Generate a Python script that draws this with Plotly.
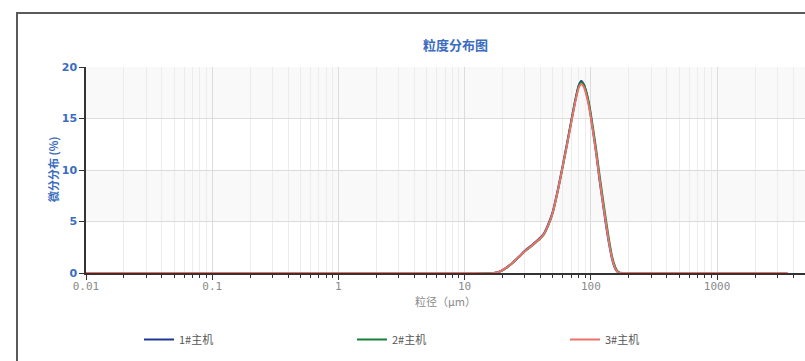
import plotly.graph_objects as go

# Particle size classes (µm) and differential distribution (%) for three hosts
sizes = [0.01, 0.1, 1, 10, 17, 19, 21, 24, 27, 30, 34, 38, 42, 46, 50, 55, 60, 65,
         70, 75, 80, 84, 88, 93, 98, 104, 110, 117, 124, 132, 140, 148, 156, 163,
         170, 180, 300, 1000, 3600]

host1 = [0, 0, 0, 0, 0, 0.15, 0.45, 1.0, 1.6, 2.15, 2.7, 3.2, 3.75, 4.75, 6.0, 8.2,
         10.5, 12.7, 14.8, 16.7, 18.2, 18.65, 18.3, 17.3, 15.9, 13.8, 11.7, 9.1, 6.9,
         4.6, 2.7, 1.25, 0.42, 0.1, 0, 0, 0, 0, 0]
host2 = [0, 0, 0, 0, 0, 0.14, 0.43, 0.97, 1.55, 2.1, 2.62, 3.12, 3.65, 4.6, 5.85, 8.05,
         10.35, 12.55, 14.7, 16.6, 18.1, 18.55, 18.3, 17.4, 16.1, 14.1, 12.1, 9.6, 7.4,
         5.1, 3.1, 1.5, 0.6, 0.18, 0.02, 0, 0, 0, 0]
host3 = [0, 0, 0, 0, 0, 0.15, 0.45, 1.0, 1.58, 2.12, 2.65, 3.15, 3.7, 4.65, 5.9, 8.1,
         10.4, 12.55, 14.6, 16.5, 17.95, 18.35, 18.05, 17.1, 15.75, 13.75, 11.7, 9.2, 7.0,
         4.75, 2.8, 1.3, 0.45, 0.12, 0, 0, 0, 0, 0]

series_names = ["1#主机", "2#主机", "3#主机"]
series_colors = ["#1f3796", "#17803a", "#e9736a"]

x_tick_vals = [0.01, 0.1, 1, 10, 100, 1000]
x_tick_text = ["0.01", "0.1", "1", "10", "100", "1000"]
y_tick_vals = [0, 5, 10, 15, 20]

CJK = "Noto Sans CJK SC"
BLUE = "#3a6cc0"
GREY = "#8a8a8a"

# plot-area geometry in pixels (used for placing text outside the axes)
PL, PR, PT, PB = 86, 805, 67, 273
PW, PH = PR - PL, PB - PT

fig = go.Figure()
for name, vals, col in zip(series_names, [host1, host2, host3], series_colors):
    fig.add_trace(go.Scatter(
        x=sizes, y=vals, name=name, mode="lines",
        line=dict(color=col, width=2, shape="spline", smoothing=0.6),
    ))

# alternating horizontal bands in the plot area
for y0, y1 in [(5, 10), (15, 20)]:
    fig.add_shape(type="rect", xref="paper", yref="y", x0=0, x1=1, y0=y0, y1=y1,
                  fillcolor="#f9f9f9", line_width=0, layer="below")

# outer frame of the chart panel
fig.add_shape(type="rect", xref="paper", yref="paper",
              x0=(17 - PL) / PW, x1=1.05, y0=-0.6, y1=1 + (PT - 13) / PH,
              line=dict(color="#5a5a5a", width=2), fillcolor="rgba(0,0,0,0)")

# chart title
fig.add_annotation(text="<b>粒度分布图</b>", xref="paper", yref="paper",
                   x=(455 - PL) / PW, y=1 + (PT - 44) / PH, showarrow=False,
                   xanchor="center", yanchor="middle",
                   font=dict(family=CJK, size=13, color=BLUE))

# y-axis title
fig.add_annotation(text="<b>微分分布 (%)</b>", xref="paper", yref="paper",
                   x=(53 - PL) / PW, y=0.5, showarrow=False, textangle=-90,
                   xanchor="center", yanchor="middle",
                   font=dict(family=CJK, size=11, color=BLUE))

fig.update_layout(
    width=805, height=361,
    margin=dict(l=PL, r=0, t=PT, b=361 - PB),
    paper_bgcolor="white", plot_bgcolor="white",
    font=dict(family=CJK, size=11),
    showlegend=True,
    legend=dict(orientation="h", xref="container", yref="container",
                x=139 / 805, y=1 - 325 / 361, xanchor="left", yanchor="top",
                entrywidth=168, entrywidthmode="pixels",
                font=dict(family=CJK, size=11, color="#555555")),
    xaxis=dict(
        type="log", range=[-2, 3.697],
        tickvals=x_tick_vals, ticktext=x_tick_text,
        tickfont=dict(family="DejaVu Sans Mono", size=11, color=GREY),
        ticklabelstandoff=-3,
        showline=True, linecolor="#333333", linewidth=1.5,
        ticks="outside", ticklen=5, tickcolor="#333333",
        showgrid=True, gridcolor="#dcdcdc", gridwidth=1,
        minor=dict(dtick="D1", showgrid=True, gridcolor="#ececec",
                   ticks="outside", ticklen=3, tickcolor="#333333"),
        title=dict(text="粒径（μm）", font=dict(family=CJK, size=11, color=GREY),
                   standoff=4),
        zeroline=False,
    ),
    yaxis=dict(
        range=[0, 20], tickvals=y_tick_vals,
        tickfont=dict(family="DejaVu Sans", size=11, color=BLUE, weight="bold"),
        showline=True, linecolor="#333333", linewidth=1.5,
        ticks="outside", ticklen=5, tickcolor="#333333",
        showgrid=True, gridcolor="#dcdcdc",
        zeroline=False,
    ),
)

fig.write_html("out.html")
